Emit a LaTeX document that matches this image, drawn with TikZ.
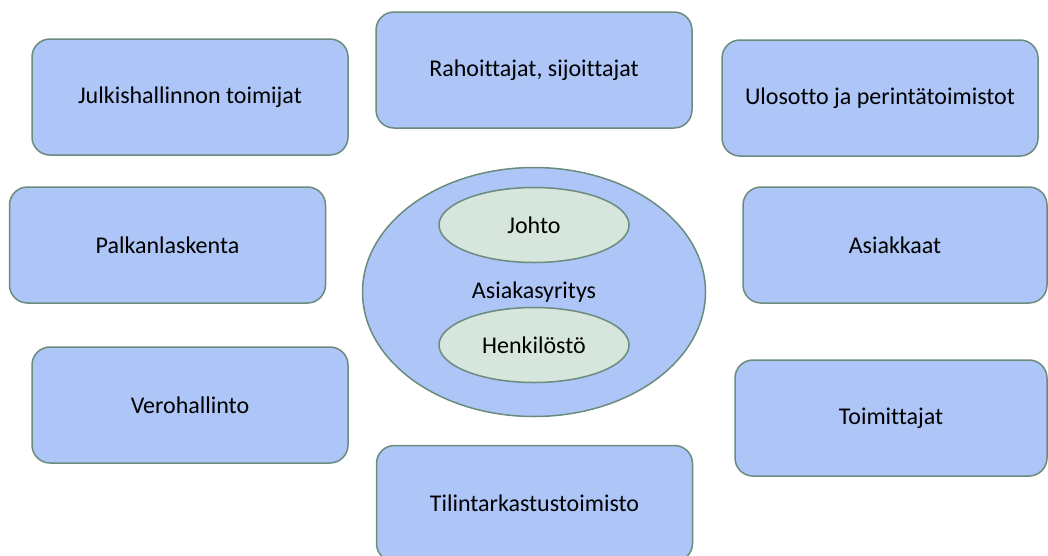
\documentclass[tikz,border=0pt]{standalone}
\usepackage{fontspec}
\setmainfont{Carlito}[Ligatures={NoCommon}]
\usetikzlibrary{shapes,positioning}
\definecolor{boxblue}{HTML}{ADC5F7}
\definecolor{boxline}{HTML}{6B8B7D}
\definecolor{innergreen}{HTML}{D6E6DD}
\begin{document}
\begin{tikzpicture}[
  x=1pt,y=-1pt,
  font=\fontsize{24}{28}\selectfont,
  line width=1.5pt,
  box/.style={draw=boxline,fill=boxblue,rounded corners=18pt,
    minimum width=316pt,minimum height=116pt,inner sep=0pt},
  ell/.style={draw=boxline,ellipse,inner sep=0pt},
]
\useasboundingbox (0,0) rectangle (1048,555);
\clip (0,0) rectangle (1048,555);

% outer boxes
\node[box] (bx1) at (190,97) {Julkishallinnon toimijat};
\node[box] (bx2) at (534,70) {Rahoittajat, sijoittajat};
\node[box] (bx3) at (880,98) {Ulosotto ja perintätoimistot};
\node[box] (bx4) at (167.5,245) {Palkanlaskenta};
\node[box,minimum width=304pt] (bx5) at (895,245) {Asiakkaat};
\node[box] (bx6) at (190,405) {Verohallinto};
\node[box,minimum width=312pt] (bx7) at (891,418) {Toimittajat};
\node[box] (bx8) at (534.5,503.5) {Tilintarkastustoimisto};

% company in the middle
\node[ell,fill=boxblue,minimum width=343pt,minimum height=249pt] (ell0) at (534,292) {Asiakasyritys};
\node[ell,fill=innergreen,minimum width=190pt,minimum height=75pt] (ell1) at (534,225) {Johto};
\node[ell,fill=innergreen,minimum width=190pt,minimum height=75pt] (ell2) at (534,345) {Henkilöstö};
\end{tikzpicture}
\end{document}
